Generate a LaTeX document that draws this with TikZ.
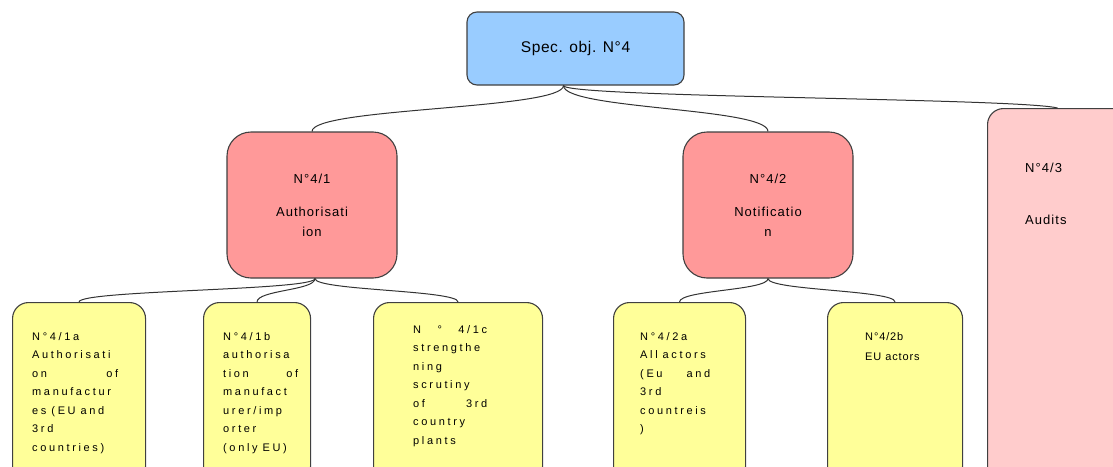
\documentclass[tikz,border=0pt]{standalone}
\usepackage{fontspec}
\setmainfont{Liberation Sans}
\newfontfamily\topfont[LetterSpace=4]{Liberation Sans}
\newfontfamily\midfont[LetterSpace=8]{Liberation Sans}
\newfontfamily\lowfont[LetterSpace=24]{Liberation Sans}
\newcommand{\gap}{\hspace{5pt}}
\usetikzlibrary{calc}
\definecolor{objblue}{HTML}{99CCFF}
\definecolor{measred}{HTML}{FF9999}
\definecolor{measpink}{HTML}{FFCCCC}
\definecolor{actyellow}{HTML}{FFFF99}
\tikzstyle{objbox} = [rectangle, draw=black!75, line width=1.1pt, fill=objblue, rounded corners=10pt, text centered, minimum width=217pt, minimum height=73pt, font=\topfont\fontsize{15.5}{20}\selectfont]
\tikzstyle{measurebox} = [rectangle, draw=black!75, line width=1.1pt, fill=measred, rounded corners=24pt, align=center, minimum width=170pt, minimum height=146pt, font=\midfont\fontsize{13}{20}\selectfont]
\tikzstyle{auditbox} = [rectangle, draw=black!75, line width=1.1pt, fill=measpink, rounded corners=16pt, minimum width=140pt, minimum height=380pt]
\tikzstyle{actionbox} = [rectangle, draw=black!75, line width=1.1pt, fill=actyellow, rounded corners=16pt, minimum height=180pt]
\tikzstyle{actiontext} = [anchor=north west, inner sep=0pt, align=left, font=\lowfont\fontsize{11}{18.5}\selectfont]
\tikzstyle{connector} = [line width=1pt, draw=black!80]

\begin{document}
\begin{tikzpicture}[x=1pt, y=-1pt]
            \clip (0,0) rectangle (1113,466);
            \node (obj4) [objbox] at (575.5,48.5) {Spec. obj. N°4};
            \node (m41) [measurebox] at (312,205) {N°4/1\\[13pt]Authorisati\\ion};
            \node (m42) [measurebox] at (768,205) {N°4/2\\[13pt]Notificatio\\n};
            \node (m43) [auditbox, anchor=north west] at (987,108) {};
            \node (t43) [actiontext, font=\midfont\fontsize{13}{20}\selectfont] at (1025,163) {N°4/3\\[32pt]Audits};
            % actions under N°4/1
            \node (a41a) [actionbox, anchor=north west, minimum width=133pt] at (12,302) {};
            \node (a41b) [actionbox, anchor=north west, minimum width=107pt] at (203,302) {};
            \node (a41c) [actionbox, anchor=north west, minimum width=169pt] at (373,302) {};
            \node (t41a) [actiontext, text width=86pt] at (32,332) {N°4/1a\\Authorisati\\on\hfill of\\manufactur\\es\gap(EU\gap and\\3rd\\countries)};
            \node (t41b) [actiontext, text width=75pt] at (223,332) {N°4/1b\\authorisa\\tion\hfill of\\manufact\\urer/imp\\orter\\(only\gap EU)};
            \node (t41c) [actiontext, text width=74pt] at (413,325) {N\hfill°\hfill 4/1c\\strengthe\\ning\\scrutiny\\of\hfill 3rd\\country\\plants};
            % actions under N°4/2
            \node (a42a) [actionbox, anchor=north west, minimum width=132pt] at (613,302) {};
            \node (a42b) [actionbox, anchor=north west, minimum width=135pt] at (827,302) {};
            \node (t42a) [actiontext, text width=70pt] at (640,332) {N°4/2a\\All\gap actors\\(Eu\hfill and\\3rd\\countreis\\)};
            \node (t42b) [actiontext, font=\midfont\fontsize{11}{20}\selectfont] at (865,332) {N°4/2b\\EU actors};
            \draw [connector] ([xshift=-12pt]obj4.south) .. controls +(0,24) and +(0,-24) .. (m41.north);
            \draw [connector] ([xshift=-12pt]obj4.south) .. controls +(0,24) and +(0,-24) .. (m42.north);
            \draw [connector] ([xshift=-12pt]obj4.south) .. controls +(0,12) and +(-40,-10) .. (m43.north);
            \draw [connector] ([xshift=3pt]m41.south) .. controls +(0,12) and +(0,-12) .. (a41a.north);
            \draw [connector] ([xshift=3pt]m41.south) .. controls +(0,12) and +(0,-12) .. (a41b.north);
            \draw [connector] ([xshift=3pt]m41.south) .. controls +(0,12) and +(0,-12) .. (a41c.north);
            \draw [connector] (m42.south) .. controls +(0,12) and +(0,-12) .. (a42a.north);
            \draw [connector] (m42.south) .. controls +(0,12) and +(0,-12) .. (a42b.north);
        \end{tikzpicture}
\end{document}
